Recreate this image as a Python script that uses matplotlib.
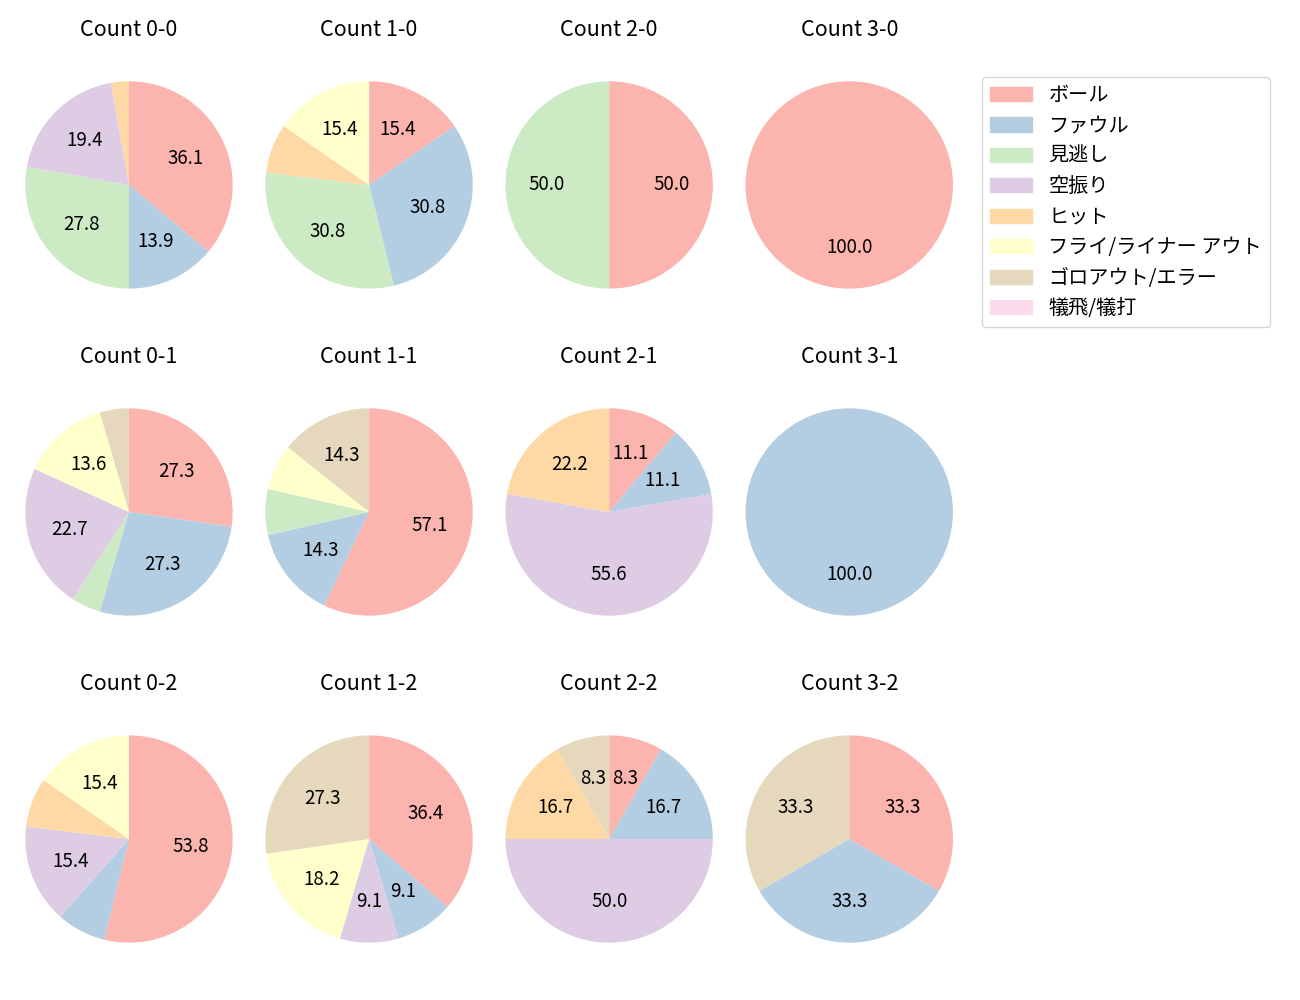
import matplotlib
matplotlib.use("Agg")
import matplotlib.pyplot as plt
import numpy as np

plt.rcParams['font.family'] = ['Noto Sans CJK JP', 'DejaVu Sans']
plt.rcParams['font.size'] = 12

# categories (legend order)
categories = ['ボール', 'ファウル', '見逃し', '空振り', 'ヒット',
              'フライ/ライナー アウト', 'ゴロアウト/エラー', '犠飛/犠打']

# counts per ball-strike situation, same order as categories
count_0_0 = [13, 5, 10, 7, 1, 0, 0, 0]
count_1_0 = [2, 4, 4, 0, 1, 2, 0, 0]
count_2_0 = [1, 0, 1, 0, 0, 0, 0, 0]
count_3_0 = [1, 0, 0, 0, 0, 0, 0, 0]
count_0_1 = [6, 6, 1, 5, 0, 3, 1, 0]
count_1_1 = [8, 2, 1, 0, 0, 1, 2, 0]
count_2_1 = [1, 1, 0, 5, 2, 0, 0, 0]
count_3_1 = [0, 1, 0, 0, 0, 0, 0, 0]
count_0_2 = [7, 1, 0, 2, 1, 2, 0, 0]
count_1_2 = [4, 1, 0, 1, 0, 2, 3, 0]
count_2_2 = [1, 2, 0, 6, 2, 0, 1, 0]
count_3_2 = [1, 1, 0, 0, 0, 0, 1, 0]

counts = {
    '0-0': count_0_0, '1-0': count_1_0, '2-0': count_2_0, '3-0': count_3_0,
    '0-1': count_0_1, '1-1': count_1_1, '2-1': count_2_1, '3-1': count_3_1,
    '0-2': count_0_2, '1-2': count_1_2, '2-2': count_2_2, '3-2': count_3_2,
}

colors = plt.cm.Pastel1(np.arange(len(categories)))


def autopct(p):
    return f'{p:.1f}' if p >= 8 else ''


fig, axes = plt.subplots(3, 4, figsize=(13, 10))
fig.subplots_adjust(left=0.0115, right=0.741, top=0.956, bottom=0.02,
                    wspace=0.0526, hspace=0.16)

for strikes in range(3):
    for balls in range(4):
        ax = axes[strikes, balls]
        key = f'{balls}-{strikes}'
        vals = np.array(counts[key], dtype=float)
        ax.pie(vals, colors=colors, startangle=90, counterclock=False,
               autopct=autopct, textprops={'fontsize': 13.5})
        ax.axis('equal')
        ax.set_title(f'Count {key}', fontsize=15.5)

handles = [plt.Rectangle((0, 0), 1, 1, color=c) for c in colors]
fig.legend(handles, categories, loc='upper left', fontsize=14.5,
           labelspacing=0.47, handlelength=2.1,
           bbox_to_anchor=(982 / 1300, 1 - 77 / 1000), borderaxespad=0)

plt.savefig('out.png', dpi=100)
